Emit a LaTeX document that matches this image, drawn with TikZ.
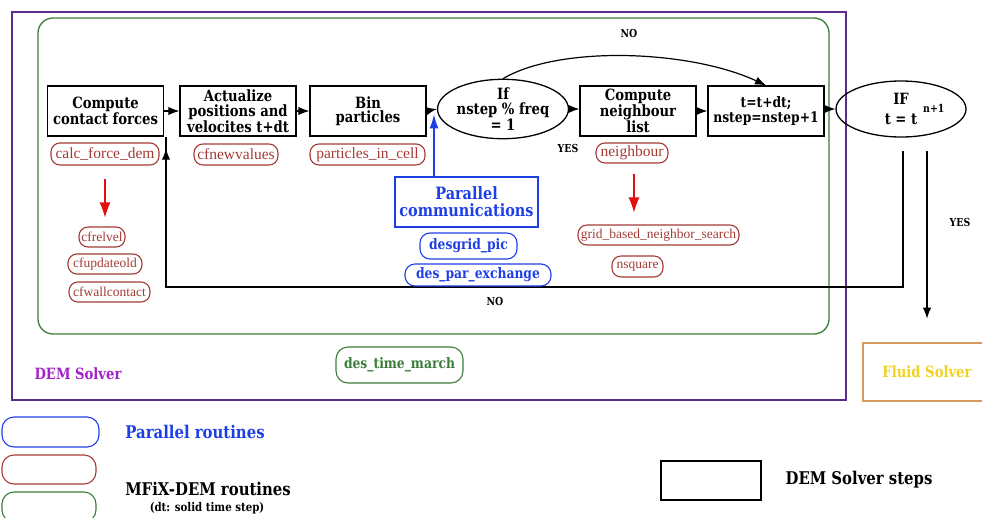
\documentclass[tikz,border=0pt]{standalone}
\usepackage{fontspec}
\setmainfont{DejaVu Serif}
\newfontfamily\boxfont{DejaVu Serif}[FakeStretch=0.85]
\newfontfamily\labfont{Liberation Serif}
\usetikzlibrary{arrows.meta,shapes.geometric}
\definecolor{dempurple}{HTML}{5E2A8C}
\definecolor{demtext}{HTML}{A322C8}
\definecolor{mgreen}{HTML}{3A7D3A}
\definecolor{mred}{HTML}{A33A35}
\definecolor{arrred}{HTML}{E01010}
\definecolor{pblue}{HTML}{1E3FE6}
\definecolor{forange}{HTML}{D49A5A}
\definecolor{fyellow}{HTML}{F2D21E}
\tikzset{
  bf/.style={font=\boxfont\bfseries\fontsize{#1}{#1}\selectfont},
  stepbox/.style={draw, line width=1.3pt, minimum width=116, minimum height=50, inner sep=0pt,
    align=center, font=\boxfont\bfseries\fontsize{15.5}{14.5}\selectfont},
  decision/.style={draw, ellipse, line width=1.3pt, minimum width=130, minimum height=56, inner sep=0pt,
    align=center, font=\boxfont\bfseries\fontsize{15.5}{14.5}\selectfont},
  redlab/.style={draw=mred, text=mred, rounded corners=9, line width=1.1pt, inner sep=0pt,
    font=\labfont\fontsize{15.5}{15.5}\selectfont},
  redsmall/.style={redlab, font=\labfont\fontsize{13.5}{13.5}\selectfont},
  blulab/.style={draw=pblue, text=pblue, rounded corners=10, line width=1.1pt, inner sep=0pt,
    font=\boxfont\bfseries\fontsize{14.5}{14.5}\selectfont},
  grnlab/.style={draw=mgreen, text=mgreen, rounded corners=12, line width=1.1pt, inner sep=0pt,
    font=\boxfont\bfseries\fontsize{14.5}{14.5}\selectfont},
  flow/.style={-{Latex[length=11pt,width=8.5pt]}, line width=1.2pt},
  redarr/.style={-{Latex[length=15pt,width=11pt]}, line width=1.1pt, draw=arrred},
  bluarr/.style={-{Latex[length=14pt,width=9pt]}, line width=1.4pt, draw=pblue},
  lbl/.style={font=\boxfont\bfseries\fontsize{11}{11}\selectfont},
}
\begin{document}
\begin{tikzpicture}[x=1pt,y=-1pt]
\useasboundingbox (0,0) rectangle (982,517);
% containers
\draw[dempurple, line width=1.5pt] (12,12) rectangle (846,400);
\draw[mgreen, line width=1.3pt, rounded corners=15] (38,18) rectangle (829,334);
% steps
\node[stepbox] (ccf) at (105.5,111) {Compute\\contact forces};
\node[stepbox] (act) at (238,111) {Actualize\\positions and\\velocites t+dt};
\node[stepbox] (bin) at (368,111) {Bin\\particles};
\node[decision] (cond) at (503,109) {If\\nstep \% freq\\= 1};
\node[stepbox] (ngh) at (638,111) {Compute\\neighbour\\list};
\node[stepbox, font=\boxfont\bfseries\fontsize{14.5}{15}\selectfont] (tst) at (766,111) {t=t+dt;\\nstep=nstep+1};
\node[decision] (ifd) at (901,109) {IF\\[-1pt]t = t\rlap{\hspace{6pt}\raisebox{12pt}{\fontsize{11}{11}\selectfont n+1}}};
% main flow
\draw[flow] (ccf) -- (act);
\draw[flow] (act) -- (bin);
\draw[flow] (bin.east) -- (cond.west);
\draw[flow] (cond.east) -- (ngh.west |- cond.east);
\draw[flow] (ngh) -- (tst);
\draw[flow] (tst.east |- ifd.west) -- (ifd.west);
\draw[flow] (cond.north) .. controls (560,45) and (690,50) .. (tst.north);
% return / exit
\coordinate (back) at (166,287);
\draw[flow] (ifd.south) ++(2,13) |- (back) -- (back |- ccf.south) ++(0,12);
\draw[flow] (ifd.south) ++(26,13) -- ++(0,168);
% red routine labels
\node[redlab, minimum width=108, minimum height=22] (calc) at (105,154) {calc\_force\_dem};
\node[redlab, minimum width=84, minimum height=21] (cfnv) at (236,154.5) {cfnewvalues};
\node[redlab, minimum width=115, minimum height=21] (pic) at (367.5,154.5) {particles\_in\_cell};
\node[redlab, minimum width=72, minimum height=20] (nbr) at (632,153) {neighbour};
\node[redsmall, minimum width=46, minimum height=20] (cfrel) at (102,237) {cfrelvel};
\node[redsmall, minimum width=74, minimum height=20] (cfupd) at (105,264) {cfupdateold};
\node[redsmall, minimum width=81, minimum height=20] (cfwall) at (109.5,292) {cfwallcontact};
\node[redsmall, minimum width=161, minimum height=20] (grid) at (658.5,235) {grid\_based\_neighbor\_search};
\node[redsmall, minimum width=51, minimum height=21] (nsq) at (637.5,266.5) {nsquare};
\draw[redarr, shorten <=13pt, shorten >=9pt] (calc.south) -- (calc.south |- cfrel.north);
\draw[redarr, shorten <=10pt, shorten >=12pt] ([xshift=2pt]nbr.south) -- ([xshift=2pt]nbr.south |- grid.north);
% parallel
\node[draw=pblue, line width=1.3pt, text=pblue, minimum width=143, minimum height=50, inner sep=0pt,
  align=center, font=\boxfont\bfseries\fontsize{17}{17}\selectfont] (comm) at (466.5,202) {Parallel\\communications};
\node[blulab, minimum width=97, minimum height=26] (dgp) at (468.5,246) {desgrid\_pic};
\node[blulab, minimum width=146, minimum height=22] (dpe) at (478,275) {des\_par\_exchange};
\draw[bluarr] ([xshift=-32.5pt]comm.north) -- ++(0,-62);
% des_time_march
\node[grnlab, minimum width=127, minimum height=36] (dtm) at (399.5,365) {des\_time\_march};
% labels
\node[lbl] (no1) at (629,33) {NO};
\node[lbl] (yes1) at (568,148) {YES};
\node[lbl] (no2) at (495,301) {NO};
\node[lbl] (yes2) at (960,222) {YES};
\node[bf=15.5, text=demtext] (demlab) at (78,374) {DEM Solver};
% fluid solver
\node[draw=forange, line width=1.3pt, minimum width=123, minimum height=58, inner sep=0pt] (fluid) at (924.5,372) {};
\node[bf=15.5, text=fyellow] (fluidt) at (927,372) {Fluid Solver};
% legend
\node[draw=pblue, rounded corners=12, line width=1.1pt, minimum width=97, minimum height=30] (legb) at (50.5,432) {};
\node[draw=mred, rounded corners=12, line width=1.1pt, minimum width=94, minimum height=29] (legr) at (49,469.5) {};
\node[draw=mgreen, rounded corners=12, line width=1.1pt, minimum width=94, minimum height=30] (legg) at (49,507) {};
\node[bf=17.5, text=pblue] (legbt) at (195,432) {Parallel routines};
\node[bf=17.5] (legrt) at (208,489) {MFiX-DEM routines};
\node[bf=12] (legdt) at (207,508) {(dt: solid time step)};
\node[draw, line width=1.3pt, minimum width=100, minimum height=39, inner sep=0pt] (legs) at (711,480.5) {};
\node[bf=17.5] (legst) at (859,480) {DEM Solver steps};
\end{tikzpicture}
\end{document}
